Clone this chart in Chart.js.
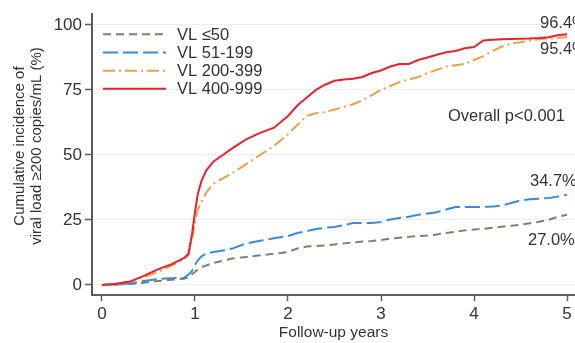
<!DOCTYPE html>
<html>
<head>
<meta charset="utf-8">
<script src="https://cdn.jsdelivr.net/npm/chart.js@4"></script>
<style>
  html, body { margin: 0; padding: 0; background: #fff; }
  #wrap { width: 575px; height: 343px; }
</style>
</head>
<body>
<div id="wrap"><canvas id="c" width="575" height="343"></canvas></div>
<script>
// Follow-up time points (years)
const years = [0, 0.15, 0.3, 0.45, 0.6, 0.75, 0.88, 0.93, 0.97, 1.0, 1.03, 1.07, 1.12, 1.2, 1.3, 1.4,
  1.55, 1.7, 1.85, 2.0, 2.1, 2.2, 2.3, 2.4, 2.5, 2.6, 2.7, 2.8, 2.9, 3.0, 3.1, 3.2, 3.3, 3.4, 3.5,
  3.6, 3.7, 3.8, 3.9, 4.0, 4.1, 4.2, 4.3, 4.4, 4.5, 4.6, 4.7, 4.8, 4.9, 5.0];

// Cumulative incidence (%) by baseline viral load group
const vl0to50 = [0, 0.1, 0.4, 0.9, 1.5, 2, 2.4, 3, 4.2, 5, 6, 6.8, 7.5, 8.5, 9.3, 10.2,
  10.8, 11.4, 12, 12.7, 14, 14.8, 15, 15.2, 15.6, 16, 16.4, 16.7, 16.9, 17.3, 17.8, 18.2, 18.5, 18.8, 19,
  19.4, 20, 20.5, 21, 21.3, 21.6, 22, 22.4, 22.8, 23.2, 23.7, 24.3, 25, 26.2, 27.0];
const vl51to199 = [0, 0.2, 0.6, 1.5, 2.3, 2.6, 2.7, 4, 5.5, 7.7, 9.5, 11, 12, 12.7, 13.3, 14,
  16, 17, 18, 18.8, 20, 20.7, 21.5, 22, 22.3, 23, 23.8, 23.8, 23.8, 24.2, 25.2, 25.8, 26.2, 27, 27.5,
  28, 29, 30, 30, 30, 30, 30.2, 30.6, 31.5, 32.5, 33, 33.2, 33.4, 34, 34.7];
const vl200to399 = [0, 0.4, 1.2, 3, 5, 7.5, 9.8, 11.5, 18, 24, 29, 32, 35.5, 39, 41, 43,
  46.5, 50, 53.5, 58, 61.5, 65, 66, 66.5, 67.5, 68.5, 69.5, 71, 73, 75, 76.5, 78, 79, 80, 81.5,
  82.7, 84, 84.5, 85, 86.5, 88, 90, 91.7, 92.8, 93.3, 94, 94.5, 94.8, 95, 95.4];
const vl400to999 = [0, 0.5, 1.3, 3.5, 6, 8, 10.3, 12, 20, 28, 35, 40, 44, 47.5, 50, 52.5,
  56, 58.5, 60.5, 65, 69, 72, 75, 77, 78.5, 79, 79.3, 80, 81.5, 82.5, 84, 85, 85, 86.5, 87.5,
  88.5, 89.5, 90, 91, 91.5, 94, 94.3, 94.5, 94.6, 94.7, 94.8, 95, 95.3, 96, 96.4];

const seriesLabels = ['VL \u226450', 'VL 51-199', 'VL 200-399', 'VL 400-999'];
const xTicks = [0, 1, 2, 3, 4, 5];
const yTicks = [0, 25, 50, 75, 100];
const yTitleLines = ['Cumulative incidence of', 'viral load \u2265200 copies/mL (%)'];
const pValueText = 'Overall p<0.001';

const FONT = 'Liberation Sans, Arial, sans-serif';
const TEXT = '#333';
const AXIS = '#5c5c5c';

function toPoints(vals) { return vals.map((v, i) => ({ x: years[i], y: v })); }

const styles = [
  { color: '#7f806e', dash: [8, 5] },
  { color: '#3a8be0', dash: [15, 5] },
  { color: '#e9a24c', dash: [12, 4, 2, 4] },
  { color: '#e8232b', dash: [] }
];
const seriesValues = [vl0to50, vl51to199, vl200to399, vl400to999];

const datasets = seriesValues.map((vals, i) => ({
  label: seriesLabels[i],
  data: toPoints(vals),
  borderColor: styles[i].color,
  borderDash: styles[i].dash,
  borderWidth: 2,
  pointRadius: 0,
  tension: 0,
  fill: false,
  order: 4 - i
}));

// Legend drawn inside the plot region, top-left
const innerLegend = {
  id: 'innerLegend',
  afterDatasetsDraw(chart) {
    const ctx = chart.ctx;
    const x0 = chart.chartArea.left + 11;
    const rows = [34.3, 52.5, 70.7, 88.7];
    ctx.save();
    chart.data.datasets.forEach((ds, i) => {
      const y = rows[i];
      ctx.beginPath();
      ctx.setLineDash(ds.borderDash);
      ctx.strokeStyle = ds.borderColor;
      ctx.lineWidth = 2;
      ctx.moveTo(x0, y);
      ctx.lineTo(x0 + 63, y);
      ctx.stroke();
      ctx.setLineDash([]);
      ctx.fillStyle = TEXT;
      ctx.font = '16.5px ' + FONT;
      ctx.textAlign = 'left';
      ctx.textBaseline = 'middle';
      ctx.fillText(ds.label, x0 + 74, y + 1);
    });
    ctx.restore();
  }
};

// End-of-follow-up percentages, the overall test result and the y-axis title
const annotations = {
  id: 'annotations',
  afterDatasetsDraw(chart) {
    const ctx = chart.ctx;
    const ys = chart.scales.y;
    const spots = [
      { i: 0, x: 528, dy: 26 },
      { i: 1, x: 530, dy: -13 },
      { i: 2, x: 540, dy: 13 },
      { i: 3, x: 540, dy: -11 }
    ];
    ctx.save();
    ctx.fillStyle = TEXT;
    ctx.font = '16.5px ' + FONT;
    ctx.textAlign = 'left';
    ctx.textBaseline = 'middle';
    spots.forEach(s => {
      const vals = seriesValues[s.i];
      const v = vals[vals.length - 1];
      const y = ys.getPixelForValue(v) + s.dy;
      ctx.fillText(v.toFixed(1) + '%', s.x, y);
    });
    ctx.fillText(pValueText, 448, 116);

    ctx.font = '15px ' + FONT;
    ctx.textAlign = 'center';
    ctx.translate(0, 146);
    ctx.rotate(-Math.PI / 2);
    ctx.fillText(yTitleLines[0], 0, 20);
    ctx.fillText(yTitleLines[1], 0, 37);
    ctx.restore();
  }
};

new Chart(document.getElementById('c'), {
  type: 'line',
  data: { datasets },
  options: {
    responsive: false,
    animation: false,
    devicePixelRatio: 1,
    layout: { padding: { top: 14, right: 0, bottom: 0, left: 0 } },
    plugins: { legend: { display: false }, tooltip: { enabled: false } },
    scales: {
      x: {
        type: 'linear',
        min: -0.1075,
        max: 5.086,
        afterBuildTicks: s => { s.ticks = xTicks.map(v => ({ value: v })); },
        afterFit: s => { s.height = 48; },
        grid: { drawOnChartArea: false, tickLength: 6, tickColor: AXIS, tickWidth: 1.5 },
        border: { color: AXIS, width: 2 },
        ticks: { padding: 3, color: TEXT, font: { family: FONT, size: 17 }, maxRotation: 0 },
        title: { display: true, text: 'Follow-up years', color: TEXT, font: { family: FONT, size: 15.5 }, padding: { top: 0, bottom: 1 } }
      },
      y: {
        min: -3.85,
        max: 104.2,
        afterBuildTicks: s => { s.ticks = yTicks.map(v => ({ value: v })); },
        afterFit: s => { s.width = 92; },
        grid: { color: '#ececec', lineWidth: 1, tickLength: 7, tickColor: AXIS, tickWidth: 1.5 },
        border: { color: AXIS, width: 2 },
        ticks: { padding: 3, color: TEXT, font: { family: FONT, size: 17 } },
        title: { display: false }
      }
    }
  },
  plugins: [innerLegend, annotations]
});
</script>
</body>
</html>
